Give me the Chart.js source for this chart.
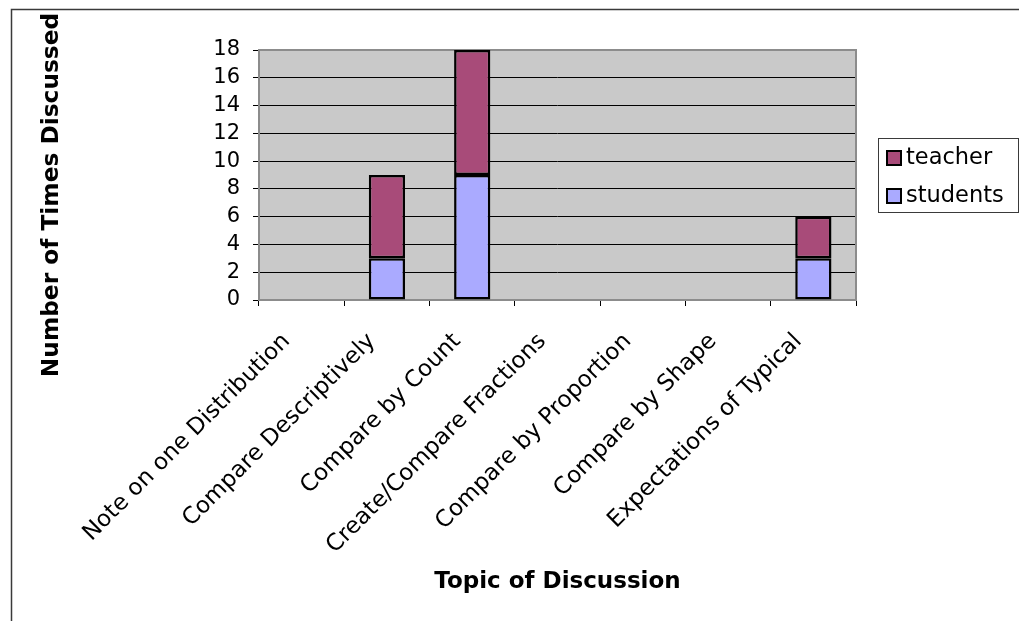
<!DOCTYPE html>
<html>
<head>
<meta charset="utf-8">
<title>Topic of Discussion</title>
<script src="https://cdn.jsdelivr.net/npm/chart.js@4.4.1/dist/chart.umd.min.js"></script>
<style>
  html, body { margin: 0; padding: 0; background: #ffffff; }
  #wrap { position: relative; width: 1019px; height: 621px; }
</style>
</head>
<body>
<div id="wrap"><canvas id="chart" width="1019" height="621"></canvas></div>
<script>
// Topics on the horizontal axis
const categories = [
  "Note on one Distribution",
  "Compare Descriptively",
  "Compare by Count",
  "Create/Compare Fractions",
  "Compare by Proportion",
  "Compare by Shape",
  "Expectations of Typical"
];
// Times each topic was raised, stacked: students at the bottom, teacher on top
const studentsValues = [0, 3, 9, 0, 0, 0, 3];
const teacherValues  = [0, 6, 9, 0, 0, 0, 3];
// Value axis ticks
const yTicks = [0, 2, 4, 6, 8, 10, 12, 14, 16, 18];

const xTitle = "Topic of Discussion";
const yTitle = "Number of Times Discussed";

const FONT = "'DejaVu Sans', Verdana, sans-serif";
const PLOT_BG = "#c9c9c9";
const PLOT_BORDER = "#8c8c8c";

// Grey plot area, outer frame and axis titles
const frame = {
  id: "frame",
  beforeDraw(chart) {
    const { ctx, chartArea: a } = chart;
    ctx.save();
    ctx.fillStyle = PLOT_BG;
    ctx.fillRect(a.left, a.top, a.right - a.left, a.bottom - a.top);
    ctx.strokeStyle = "#3a3a3a";
    ctx.lineWidth = 1.5;
    ctx.strokeRect(11.5, 9.5, 1030, 640);
    ctx.restore();
  },
  beforeDatasetsDraw(chart) {
    const { ctx, chartArea: a } = chart;
    ctx.save();
    ctx.strokeStyle = PLOT_BORDER;
    ctx.lineWidth = 2;
    ctx.strokeRect(a.left, a.top, a.right - a.left, a.bottom - a.top);
    ctx.restore();
  },
  afterDraw(chart) {
    const { ctx, chartArea: a } = chart;
    ctx.save();
    ctx.fillStyle = "#000";
    ctx.textAlign = "center";
    ctx.textBaseline = "middle";
    ctx.font = "bold 23px " + FONT;
    ctx.fillText(xTitle, (a.left + a.right) / 2, 582);
    ctx.font = "bold 23.3px " + FONT;
    ctx.translate(52, 195);
    ctx.rotate(-Math.PI / 2);
    ctx.fillText(yTitle, 0, 0);
    ctx.restore();
  }
};

// Boxed legend to the right of the plot, top entry = top of the stack
const boxLegend = {
  id: "boxLegend",
  afterDraw(chart) {
    const { ctx } = chart;
    const sets = chart.data.datasets.slice().reverse();
    ctx.save();
    ctx.strokeStyle = "#3a3a3a";
    ctx.lineWidth = 1;
    ctx.strokeRect(878.5, 138.5, 140, 74);
    ctx.font = "22.5px " + FONT;
    ctx.textBaseline = "middle";
    ctx.textAlign = "left";
    sets.forEach((ds, i) => {
      const cy = 158 + i * 38;
      ctx.fillStyle = ds.backgroundColor;
      ctx.fillRect(887, cy - 7, 14, 14);
      ctx.strokeStyle = "#000";
      ctx.lineWidth = 2;
      ctx.strokeRect(887, cy - 7, 14, 14);
      ctx.fillStyle = "#000";
      ctx.fillText(ds.label, 906, cy);
    });
    ctx.restore();
  }
};

new Chart(document.getElementById("chart"), {
  type: "bar",
  data: {
    labels: categories,
    datasets: [
      {
        label: "students",
        data: studentsValues,
        backgroundColor: "#aaaaff",
        borderColor: "#000",
        borderWidth: 2.5,
        borderSkipped: false
      },
      {
        label: "teacher",
        data: teacherValues,
        backgroundColor: "#a84b79",
        borderColor: "#000",
        borderWidth: 2.5,
        borderSkipped: false
      }
    ]
  },
  options: {
    responsive: false,
    animation: false,
    layout: { padding: { top: 50, right: 163, bottom: 0, left: 0 } },
    datasets: { bar: { categoryPercentage: 1.0, barPercentage: 0.425 } },
    plugins: {
      legend: { display: false },
      tooltip: { enabled: false },
      title: { display: false }
    },
    scales: {
      x: {
        stacked: true,
        grid: {
          offset: true,
          drawOnChartArea: false,
          drawTicks: true,
          tickLength: 6,
          tickColor: "#000",
          tickWidth: 1
        },
        border: { display: false },
        ticks: {
          autoSkip: false,
          minRotation: 45,
          maxRotation: 45,
          padding: 22,
          labelOffset: -15,
          color: "#000",
          font: { family: FONT, size: 23 }
        },
        afterFit(scale) { scale.height = 321; }
      },
      y: {
        stacked: true,
        min: 0,
        max: 18,
        afterBuildTicks(scale) { scale.ticks = yTicks.map(v => ({ value: v })); },
        grid: {
          color: "#000",
          lineWidth: 1,
          drawTicks: true,
          tickLength: 6,
          tickColor: "#000"
        },
        border: { display: false },
        ticks: {
          autoSkip: false,
          padding: 13,
          color: "#000",
          font: { family: FONT, size: 21 }
        },
        afterFit(scale) { scale.width = 259; }
      }
    }
  },
  plugins: [frame, boxLegend]
});
</script>
</body>
</html>
